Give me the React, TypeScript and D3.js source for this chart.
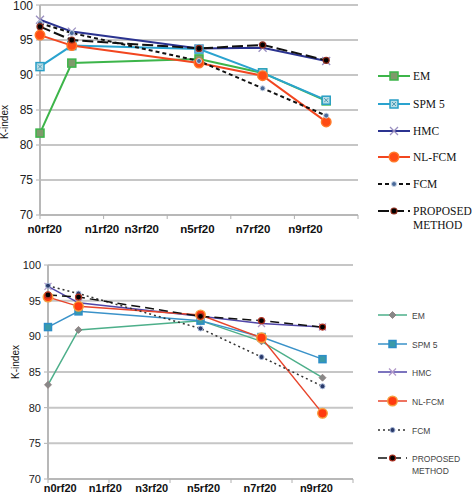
import React from "react";
import * as d3 from "d3";

const xValues = [0, 1, 5, 7, 9];
const categories = ["n0rf20", "n1rf20", "n3rf20", "n5rf20", "n7rf20", "n9rf20"];
const seriesNames = ["EM", "SPM 5", "HMC", "NL-FCM", "FCM", "PROPOSED METHOD"];
const yTicks = [70, 75, 80, 85, 90, 95, 100];
const xTicks = [0, 2, 4, 6, 8, 10];

// top chart values
const topEM = [81.7, 91.7, 92.3, 90.3, 86.3];
const topSPM = [91.2, 94.2, 93.7, 90.3, 86.4];
const topHMC = [97.9, 96.2, 93.8, 93.9, 92.0];
const topNLFCM = [95.7, 94.2, 91.7, 89.9, 83.3];
const topFCM = [97.4, 96.0, 92.0, 88.1, 84.2];
const topProposed = [96.9, 95.0, 93.8, 94.3, 92.1];
const topLabelPos = [0.15, 1.95, 3.2, 4.95, 6.7, 8.35];

// bottom chart values
const botEM = [83.2, 90.9, 92.2, 89.3, 84.2];
const botSPM = [91.3, 93.5, 92.2, 89.9, 86.8];
const botHMC = [97.0, 94.7, 92.8, 91.8, 91.3];
const botNLFCM = [95.5, 94.2, 93.0, 89.8, 79.2];
const botFCM = [97.1, 96.0, 91.1, 87.1, 83.0];
const botProposed = [95.8, 95.5, 92.8, 92.2, 91.3];
const botLabelPos = [0.4, 1.88, 3.4, 5.1, 6.95, 8.8];

type Style = { color: string; dash?: string; width: number; marker: string; mFill: string; mStroke: string; mSize: number };

const topStyles: Style[] = [
  { color: "#3db54a", width: 2, marker: "square", mFill: "#7f9a6c", mStroke: "#3db54a", mSize: 8 },
  { color: "#2aa3cf", width: 2, marker: "squarex", mFill: "#b9dde6", mStroke: "#2a9fc6", mSize: 8 },
  { color: "#2b3390", width: 2, marker: "x", mFill: "none", mStroke: "#9a8fc0", mSize: 8 },
  { color: "#f2461f", width: 2, marker: "circle", mFill: "#ff4b14", mStroke: "#ff7a2a", mSize: 11 },
  { color: "#111", dash: "4,3", width: 2, marker: "dot", mFill: "#4a6a9a", mStroke: "#c8d4e4", mSize: 5 },
  { color: "#111", dash: "11,4", width: 2, marker: "pdot", mFill: "#000", mStroke: "#8a2a1a", mSize: 7 },
];

const botStyles: Style[] = [
  { color: "#4daf8a", width: 1.5, marker: "diamond", mFill: "#888", mStroke: "#8a7a7a", mSize: 7 },
  { color: "#3a92c9", width: 1.5, marker: "square", mFill: "#3a9aa8", mStroke: "#2c8ec8", mSize: 7 },
  { color: "#5046a8", width: 1.5, marker: "x", mFill: "none", mStroke: "#b29aca", mSize: 7 },
  { color: "#e8452c", width: 1.5, marker: "circle", mFill: "#ff3a10", mStroke: "#f5a040", mSize: 11 },
  { color: "#333", dash: "2,3", width: 1.5, marker: "dot", mFill: "#2a3a6a", mStroke: "#a8b8d8", mSize: 5 },
  { color: "#111", dash: "9,5", width: 1.5, marker: "pdot", mFill: "#000", mStroke: "#b03020", mSize: 7 },
];

function Marker({ x, y, s }: { x: number; y: number; s: Style }) {
  const h = s.mSize / 2;
  if (s.marker === "square")
    return <rect x={x - h} y={y - h} width={s.mSize} height={s.mSize} fill={s.mFill} stroke={s.mStroke} strokeWidth={1.5} />;
  if (s.marker === "squarex")
    return (
      <g>
        <rect x={x - h} y={y - h} width={s.mSize} height={s.mSize} fill={s.mFill} stroke={s.mStroke} strokeWidth={1.5} />
        <path d={`M${x - h + 2},${y - h + 2}L${x + h - 2},${y + h - 2}M${x - h + 2},${y + h - 2}L${x + h - 2},${y - h + 2}`} stroke="#3a8aa8" strokeWidth={0.8} />
      </g>
    );
  if (s.marker === "x")
    return <path d={`M${x - h},${y - h}L${x + h},${y + h}M${x - h},${y + h}L${x + h},${y - h}`} stroke={s.mStroke} strokeWidth={1.3} />;
  if (s.marker === "circle")
    return <circle cx={x} cy={y} r={h - 0.7} fill={s.mFill} stroke={s.mStroke} strokeWidth={1.4} />;
  if (s.marker === "diamond")
    return <path d={`M${x},${y - h}L${x + h},${y}L${x},${y + h}L${x - h},${y}Z`} fill={s.mFill} stroke={s.mStroke} strokeWidth={0.8} />;
  if (s.marker === "dot")
    return <circle cx={x} cy={y} r={h} fill={s.mFill} stroke={s.mStroke} strokeWidth={1} />;
  return <circle cx={x} cy={y} r={h - 0.5} fill={s.mFill} stroke={s.mStroke} strokeWidth={1.2} />;
}

type ChartProps = {
  series: number[][];
  styles: Style[];
  xRange: [number, number];
  yRange: [number, number];
  labelPos: number[];
  labelY: number;
  tickFont: number;
  tickWeight: number;
  titleX: number;
  titleY: number;
  legendLine: [number, number];
  legendText: number;
  legendYs: number[];
  legendFont: string;
  legendSize: number;
  legendColor: string;
  legendLH: number;
  catFont: number;
};

function Chart(p: ChartProps) {
  const x = d3.scaleLinear().domain([0, 10]).range(p.xRange);
  const y = d3.scaleLinear().domain([70, 100]).range(p.yRange);
  const line = d3
    .line<number>()
    .x((_, i) => x(xValues[i]))
    .y((d) => y(d));
  const x0 = p.xRange[0];
  const x1 = p.xRange[1];
  const lm = (p.legendLine[0] + p.legendLine[1]) / 2;
  return (
    <g>
      {yTicks.map((t) => (
        <g key={t}>
          <line x1={x0} x2={x1} y1={y(t)} y2={y(t)} stroke="#c6c6c6" strokeWidth={2} />
          <line x1={x0 - 4} x2={x0} y1={y(t)} y2={y(t)} stroke="#b0b0b0" strokeWidth={1} />
          <text x={x0 - 7} y={Math.max(y(t) + 4, p.tickFont * 0.75 + 1)} textAnchor="end" fontSize={p.tickFont} fontWeight={p.tickWeight} fill="#222" fontFamily="Liberation Sans, Arial, sans-serif">
            {t}
          </text>
        </g>
      ))}
      <line x1={x0} x2={x0} y1={y(100)} y2={y(70)} stroke="#b8b8b8" strokeWidth={2} />
      <line x1={x0} x2={x1} y1={y(70)} y2={y(70)} stroke="#b8b8b8" strokeWidth={2} />
      {xTicks.map((t) => (
        <line key={t} x1={x(t)} x2={x(t)} y1={y(70)} y2={y(70) + 4} stroke="#b0b0b0" strokeWidth={1} />
      ))}
      {categories.map((c, i) => (
        <text key={c} x={x(p.labelPos[i])} y={p.labelY} textAnchor="middle" fontSize={p.catFont} fontWeight="bold" fill="#111" fontFamily="Liberation Sans, Arial, sans-serif">
          {c}
        </text>
      ))}
      <text transform={`translate(${p.titleX},${p.titleY}) rotate(-90)`} textAnchor="middle" fontSize={10} fill="#111" fontFamily="Liberation Sans, Arial, sans-serif">
        K-index
      </text>
      {p.series.map((s, k) => (
        <path key={k} d={line(s) || ""} fill="none" stroke={p.styles[k].color} strokeWidth={p.styles[k].width} strokeDasharray={p.styles[k].dash} />
      ))}
      {p.series.map((s, k) => (
        <g key={k}>
          {s.map((v, i) => (
            <Marker key={i} x={x(xValues[i])} y={y(v)} s={p.styles[k]} />
          ))}
        </g>
      ))}
      {seriesNames.map((n, k) => {
        const ly = p.legendYs[k];
        const st = p.styles[k];
        const words = n === "PROPOSED METHOD" ? ["PROPOSED", "METHOD"] : [n];
        return (
          <g key={n}>
            <line x1={p.legendLine[0]} x2={p.legendLine[1]} y1={ly} y2={ly} stroke={st.color} strokeWidth={st.width} strokeDasharray={st.dash} />
            <Marker x={lm} y={ly} s={st} />
            {words.map((w, j) => (
              <text key={w} x={p.legendText} y={ly + 4 + j * p.legendLH} fontSize={p.legendSize} fill={p.legendColor} fontFamily={p.legendFont}>
                {w}
              </text>
            ))}
          </g>
        );
      })}
    </g>
  );
}

export default function App() {
  return (
    <svg width={472} height={495} style={{ position: "absolute", left: 0, top: 0, background: "#fff" }}>
      <Chart
        series={[topEM, topSPM, topHMC, topNLFCM, topFCM, topProposed]}
        styles={topStyles}
        xRange={[40, 358]}
        yRange={[215, 5]}
        labelPos={topLabelPos}
        labelY={233}
        tickFont={12}
        tickWeight={500}
        titleX={8}
        titleY={122}
        legendLine={[378, 410]}
        legendText={413}
        legendYs={[76, 104, 131, 157, 184, 211]}
        legendFont="Liberation Serif, Times New Roman, serif"
        legendSize={11.5}
        legendColor="#111"
        legendLH={14}
        catFont={11.5}
      />
      <Chart
        series={[botEM, botSPM, botHMC, botNLFCM, botFCM, botProposed]}
        styles={botStyles}
        xRange={[48, 353]}
        yRange={[479, 265]}
        labelPos={botLabelPos}
        labelY={492}
        tickFont={11}
        tickWeight={400}
        titleX={19}
        titleY={362}
        legendLine={[378, 407]}
        legendText={412}
        legendYs={[315, 344, 372, 401, 430, 458]}
        legendFont="Liberation Sans, Arial, sans-serif"
        legendSize={8.5}
        legendColor="#444"
        legendLH={12}
        catFont={11}
      />
    </svg>
  );
}
